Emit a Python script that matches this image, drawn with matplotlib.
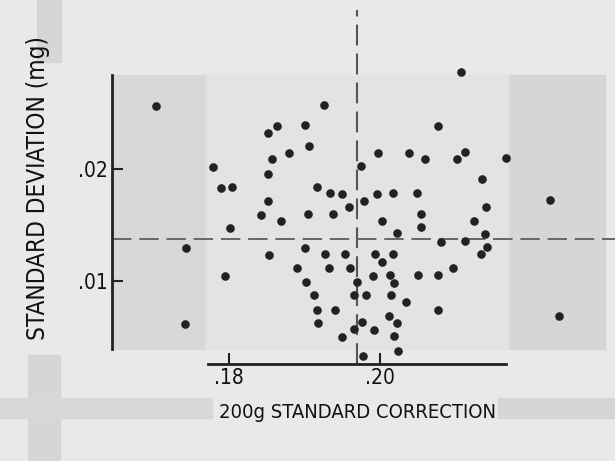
import matplotlib
matplotlib.use('Agg')
import matplotlib.pyplot as plt
from matplotlib.patches import Rectangle

plt.rcParams['font.family'] = ['DejaVu Sans']
plt.rcParams['font.stretch'] = 'condensed'

# 200 g standard correction (x) and standard deviation in mg (y)
corr = [0.1703, 0.1779, 0.1789, 0.1804, 0.1851, 0.1864, 0.1857, 0.1852, 0.1852, 0.1900,
        0.1926, 0.1879, 0.1906, 0.1916, 0.1933, 0.1949, 0.1975, 0.1997, 0.2038, 0.2060,
        0.2076, 0.1979, 0.1959, 0.1996, 0.2017, 0.2049, 0.2107, 0.2113, 0.2102, 0.2167,
        0.2135, 0.2225, 0.2140, 0.1842, 0.1869, 0.1905, 0.1937, 0.2002, 0.2054, 0.2054,
        0.2022, 0.2124, 0.1801, 0.1743, 0.1853, 0.1795, 0.1742, 0.1901, 0.1890, 0.1902,
        0.1913, 0.1917, 0.1918, 0.2081, 0.1927, 0.1953, 0.1993, 0.2017, 0.2003, 0.1932,
        0.1960, 0.1990, 0.2013, 0.2050, 0.2076, 0.1970, 0.2019, 0.1965, 0.1981, 0.2014,
        0.2034, 0.1940, 0.2077, 0.2012, 0.1976, 0.2023, 0.1966, 0.1992, 0.1950, 0.2019,
        0.2024, 0.1977, 0.2139, 0.2112, 0.2141, 0.2134, 0.2097, 0.2237]
sd = [0.0257, 0.0202, 0.0183, 0.0184, 0.0233, 0.0239, 0.0209, 0.0196, 0.0172, 0.0240,
      0.0258, 0.0215, 0.0221, 0.0184, 0.0179, 0.0178, 0.0203, 0.0215, 0.0215, 0.0209,
      0.0239, 0.0172, 0.0166, 0.0178, 0.0179, 0.0179, 0.0288, 0.0216, 0.0209, 0.0210,
      0.0191, 0.0173, 0.0166, 0.0159, 0.0154, 0.0160, 0.0160, 0.0154, 0.0160, 0.0148,
      0.0143, 0.0154, 0.0147, 0.0129, 0.0123, 0.0104, 0.0061, 0.0129, 0.0111, 0.0099,
      0.0087, 0.0074, 0.0062, 0.0135, 0.0124, 0.0124, 0.0124, 0.0124, 0.0117, 0.0111,
      0.0111, 0.0104, 0.0105, 0.0105, 0.0105, 0.0099, 0.0098, 0.0087, 0.0087, 0.0087,
      0.0081, 0.0074, 0.0074, 0.0068, 0.0063, 0.0062, 0.0057, 0.0056, 0.0049, 0.0050,
      0.0037, 0.0032, 0.0142, 0.0136, 0.0130, 0.0124, 0.0111, 0.0068]

mean_corr = 0.1970
mean_sd = 0.01373

xticks = [0.18, 0.20]
xticklabels = ['.18', '.20']
yticks = [0.01, 0.02]
yticklabels = ['.01', '.02']

fig = plt.figure(figsize=(6.15, 4.61), dpi=100, facecolor='#e9e9e9')

# scan artefacts: grey bands around the figure
for (x0, y0, w, h, c) in [(37, 0, 24, 62, '#d6d6d6'), (28, 355, 32, 106, '#d6d6d6'),
                          (0, 398, 212, 20, '#d8d8d8'), (498, 398, 117, 20, '#d6d6d6')]:
    fig.patches.append(Rectangle((x0 / 615, 1 - (y0 + h) / 461), w / 615, h / 461,
                                 transform=fig.transFigure, color=c, zorder=-5))

ax = fig.add_axes([112 / 615, 97 / 461, 503 / 615, 354 / 461])
ax.set_facecolor('none')
ax.set_xlim(0.1645, 0.2311)
ax.set_ylim(0.00251, 0.03434)

# shaded boxes at both ends of the panel
ax.add_patch(Rectangle((0.1645, 0.00386), 0.0123, 0.02464, color='#d8d8d8', zorder=0))
ax.add_patch(Rectangle((0.1770, 0.00386), 0.0400, 0.02464, color='#e3e3e3', zorder=0))
ax.add_patch(Rectangle((0.2170, 0.00386), 0.0128, 0.02464, color='#d6d6d6', zorder=0))

ax.axvline(mean_corr, color='#555555', lw=1.5, ls=(0, (10, 3.9)), zorder=1)
ax.axhline(mean_sd, color='#666666', lw=1.4, ls=(0, (10, 4)), zorder=1)

ax.plot(corr, sd, 'o', color='#222222', markersize=6.2, markeredgewidth=0, zorder=3)

for s in ['top', 'right']:
    ax.spines[s].set_visible(False)
ax.spines['left'].set_bounds(0.00386, 0.0285)
ax.spines['bottom'].set_bounds(0.1772, 0.2167)
for s in ['left', 'bottom']:
    ax.spines[s].set_linewidth(2)
    ax.spines[s].set_color('#222222')

ax.set_xticks(xticks)
ax.set_xticklabels(xticklabels)
ax.set_yticks(yticks)
ax.set_yticklabels(yticklabels)
ax.tick_params(direction='in', length=8, width=1.5, color='#222222',
               labelsize=15, labelcolor='#111111')
ax.tick_params(axis='x', pad=3)
ax.tick_params(axis='y', pad=3)

ax.set_xlabel('200g STANDARD CORRECTION', size=14.5, color='#111111')
ax.set_ylabel('STANDARD DEVIATION (mg)', size=17.5, color='#111111')
ax.xaxis.set_label_coords(0.489, -0.11)
ax.yaxis.set_label_coords(-0.123, 0.497)

plt.savefig('out.png', dpi=100, facecolor=fig.get_facecolor())
